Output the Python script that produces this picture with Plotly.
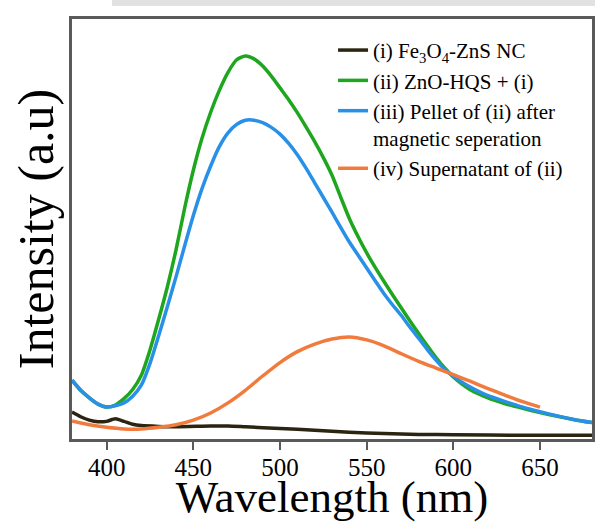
import plotly.graph_objects as go

# Wavelength grid (nm) for curves (ii) and (iii)
wl = [380, 385, 390, 395, 400, 405, 410, 415, 420, 425, 430, 435, 440, 445, 450, 455,
      460, 465, 470, 475, 480, 485, 490, 495, 500, 505, 510, 515, 520, 525, 530, 535,
      540, 545, 550, 555, 560, 565, 570, 575, 580, 585, 590, 595, 600, 605, 610,
      620, 630, 640, 650, 660, 670, 680]

green_ii = [14.0, 11.6, 9.8, 8.3, 7.6, 8.1, 9.6, 11.8, 15.2, 21.2, 28.5, 36.2, 45.0,
            55.0, 64.0, 71.6, 77.8, 83.0, 87.3, 90.3, 91.2, 90.5, 88.8, 86.4, 83.6,
            80.8, 77.7, 74.3, 70.8, 67.0, 62.8, 57.6, 52.5, 48.2, 44.3, 40.8, 37.5,
            34.3, 31.2, 28.1, 25.1, 22.2, 19.4, 16.9, 14.8, 13.1, 11.7,
            9.8, 8.4, 7.3, 6.3, 5.4, 4.6, 3.9]

blue_iii = [14.0, 11.6, 9.8, 8.3, 7.6, 7.9, 8.6, 10.2, 12.8, 18.0, 24.6, 31.5, 38.6,
            46.0, 53.2, 59.6, 65.0, 69.6, 72.9, 74.9, 75.9, 75.9, 75.3, 74.2, 72.6,
            70.4, 67.7, 64.5, 61.0, 57.5, 54.0, 50.4, 46.9, 43.8, 40.7, 37.6, 34.6,
            31.9, 29.4, 26.6, 24.0, 21.3, 18.8, 16.6, 14.9, 13.5, 12.3,
            10.3, 8.9, 7.6, 6.5, 5.5, 4.6, 3.9]

wl_iv = [380, 390, 400, 410, 420, 430, 440, 450, 460, 470, 480, 490, 500, 510, 520,
         530, 540, 550, 560, 570, 580, 590, 600, 610, 620, 630, 640, 650]
orange_iv = [4.3, 3.4, 2.8, 2.4, 2.4, 2.8, 3.4, 4.5, 6.2, 8.6, 11.6, 15.0, 18.2, 20.8,
             22.6, 23.8, 24.3, 23.6, 22.2, 20.3, 18.5, 16.9, 15.3, 13.7, 12.0, 10.4,
             8.9, 7.6]

wl_i = [380, 385, 390, 395, 400, 405, 410, 415, 420, 430, 440, 460, 470, 480, 500,
        520, 540, 560, 580, 600, 640, 680]
black_i = [6.4, 5.3, 4.5, 4.1, 4.2, 4.8, 4.2, 3.5, 3.2, 3.0, 2.9, 3.1, 3.1, 2.9, 2.5,
           2.1, 1.6, 1.3, 1.1, 1.0, 0.9, 0.9]

names = ["(i) Fe<sub>3</sub>O<sub>4</sub>-ZnS NC",
         "(ii) ZnO-HQS + (i)",
         "(iii) Pellet of (ii) after<br>magnetic seperation",
         "(iv) Supernatant of (ii)"]
colors = ["#2a2410", "#1ea61e", "#2990e8", "#f07b3c"]

xtick_vals = [400, 450, 500, 550, 600, 650]

fig = go.Figure()
series = [(wl_i, black_i), (wl, green_ii), (wl, blue_iii), (wl_iv, orange_iv)]
for (x, y), n, c in zip(series, names, colors):
    fig.add_trace(go.Scatter(x=x, y=y, mode="lines", name=n,
                             line=dict(color=c, width=3.5, shape="spline", smoothing=0.6)))

serif = "Liberation Serif, Times New Roman, serif"
fig.update_layout(
    width=595, height=522,
    margin=dict(l=72, r=3, t=19, b=83, autoexpand=False),
    paper_bgcolor="white", plot_bgcolor="white",
    font=dict(family=serif, color="black"),
    showlegend=True,
    legend=dict(x=0.502, y=0.974, xanchor="left", yanchor="top",
                font=dict(family=serif, size=21, color="black"),
                bgcolor="rgba(0,0,0,0)", valign="top", itemwidth=30,
                tracegroupgap=0),
    xaxis=dict(range=[380, 680], tickvals=xtick_vals, ticks="outside", ticklen=8,
               tickwidth=2, tickcolor="#5a5a5a", showline=True, mirror=True,
               linecolor="#5a5a5a", linewidth=2.5, showgrid=False, zeroline=False,
               automargin=False, ticklabelstandoff=-4,
               tickfont=dict(family=serif, size=25),
               title=dict(text="Wavelength (nm)", font=dict(family=serif, size=45),
                          standoff=12)),
    yaxis=dict(range=[0, 100], showticklabels=False, ticks="", showline=True,
               mirror=True, linecolor="#5a5a5a", linewidth=2.5, showgrid=False,
               zeroline=False, automargin=False,
               title=dict(text="Intensity (a.u)", font=dict(family=serif, size=50),
                          standoff=0)),
    shapes=[dict(type="rect", xref="paper", yref="paper", x0=(112 - 72) / 520,
                 x1=(595 - 72) / 520, y0=1 + 13 / 420, y1=1 + 19 / 420,
                 fillcolor="#e2e2e2", line=dict(width=0), layer="below")],
)

fig.write_html("out.html", config={"displayModeBar": False},
               post_script="document.body.style.margin='0';document.body.style.overflow='hidden';")
